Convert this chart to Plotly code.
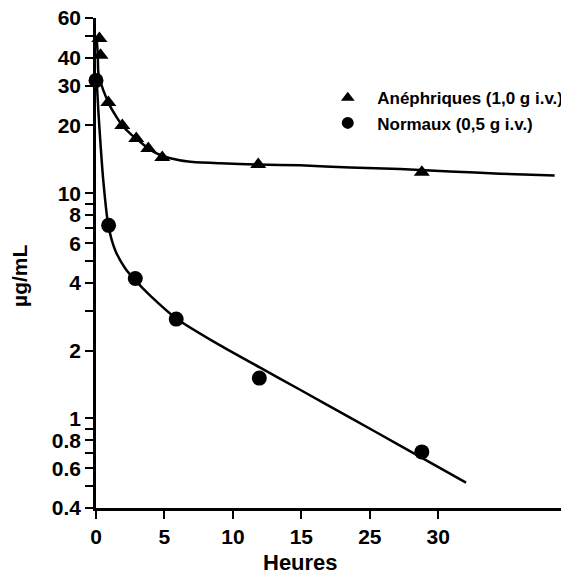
import plotly.graph_objects as go

# Measured points (x in axis position units, y in µg/mL)
aneph_t = [0.25, 0.33, 0.9, 1.92, 2.94, 3.82, 4.84, 11.85, 23.8]
aneph_c = [48.7, 41.0, 25.3, 20.0, 17.5, 15.8, 14.4, 13.4, 12.4]
norm_t = [0.0, 0.92, 2.87, 5.86, 11.93, 23.8]
norm_c = [31.7, 7.2, 4.18, 2.76, 1.51, 0.71]

# Fitted curves
aneph_fit_t = [0.06, 0.13, 0.17, 0.39, 0.68, 1.04, 1.48, 1.92, 2.5, 3.09, 3.82, 4.55,
               5.42, 6.88, 9.07, 11.85, 14.91, 18.56, 22.21, 25.86, 29.51, 33.5]
aneph_fit_c = [47.8, 41.0, 34.4, 30.4, 27.2, 24.3, 21.9, 20.0, 18.4, 17.2, 15.8, 14.9,
               14.3, 13.8, 13.6, 13.4, 13.3, 13.0, 12.8, 12.5, 12.2, 12.0]
norm_fit_t = [0.0, 0.09, 0.17, 0.31, 0.53, 0.9, 1.41, 2.14, 2.87, 3.96, 5.86, 9.07,
              11.99, 14.91, 18.56, 22.21, 27.03]
norm_fit_c = [33.0, 28.6, 23.3, 17.2, 11.4, 7.19, 5.57, 4.63, 4.10, 3.51, 2.78, 2.11,
              1.68, 1.34, 1.008, 0.757, 0.518]

x_tickvals = [0, 5, 10, 15, 20, 25]
x_ticktext = ["0", "5", "10", "15", "25", "30"]
y_tickvals = [0.4, 0.5, 0.6, 0.7, 0.8, 0.9, 1, 2, 3, 4, 5, 6, 7, 8, 9, 10, 20, 30, 40, 50, 60]
y_ticktext = ["0.4", "", "0.6", "", "0.8", "", "1", "2", "", "4", "", "6", "", "8", "",
              "10", "20", "30", "40", "", "60"]

names = ["\u00a0\u00a0Anéphriques (1,0 g i.v.)", "\u00a0\u00a0Normaux (0,5 g i.v.)"]
x_title = "Heures"
y_title = "µg/mL"

fig = go.Figure()
fig.add_trace(go.Scatter(x=aneph_fit_t, y=aneph_fit_c, mode="lines",
                         line=dict(color="black", width=2.5, shape="spline", smoothing=0.6),
                         showlegend=False, cliponaxis=False))
fig.add_trace(go.Scatter(x=norm_fit_t, y=norm_fit_c, mode="lines",
                         line=dict(color="black", width=2.5, shape="spline", smoothing=0.6),
                         showlegend=False, cliponaxis=False))
fig.add_trace(go.Scatter(x=aneph_t, y=aneph_c, mode="markers", name=names[0],
                         marker=dict(symbol="triangle-up", size=14, color="black"),
                         cliponaxis=False))
fig.add_trace(go.Scatter(x=norm_t, y=norm_c, mode="markers", name=names[1],
                         marker=dict(symbol="circle", size=15, color="black"),
                         cliponaxis=False))

tickfont = dict(family="Liberation Sans, Arial, sans-serif", size=21, color="black", weight="bold")

# The page body has an 8px margin, so the figure is made 8px smaller and shifted accordingly
fig.update_layout(
    width=561, height=567,
    margin=dict(l=88, r=0, t=10, b=67),
    paper_bgcolor="white", plot_bgcolor="white",
    font=dict(family="Liberation Sans, Arial, sans-serif", color="black"),
    showlegend=True,
    legend=dict(x=0.49, y=0.873, xanchor="left", yanchor="top",
                bgcolor="rgba(0,0,0,0)", borderwidth=0,
                font=dict(family="Liberation Sans, Arial, sans-serif",
                          size=17, color="black", weight="bold"),
                itemsizing="constant", tracegroupgap=0),
    xaxis=dict(range=[0, 34.55], tickvals=x_tickvals, ticktext=x_ticktext,
               automargin=False, ticklabeloverflow="allow",
               showgrid=False, zeroline=False, showline=True, linecolor="black",
               linewidth=2.5, ticks="outside", ticklen=8, tickwidth=2, tickcolor="black",
               tickfont=tickfont),
    yaxis=dict(type="log", range=[-0.398, 1.77818], tickvals=y_tickvals,
               automargin=False, ticklabeloverflow="allow",
               ticktext=y_ticktext, showgrid=False, zeroline=False, showline=True,
               linecolor="black", linewidth=2.5, ticks="outside", ticklen=8, tickwidth=2,
               tickcolor="black", tickfont=tickfont),
    annotations=[
        dict(text=x_title, xref="paper", yref="paper", x=0.4334, y=-0.112,
             xanchor="center", yanchor="middle", showarrow=False,
             font=dict(family="Liberation Sans, Arial, sans-serif", size=22,
                       color="black", weight="bold")),
        dict(text=y_title, xref="paper", yref="paper", x=-0.1607, y=0.4735,
             xanchor="center", yanchor="middle", showarrow=False, textangle=-90,
             font=dict(family="Liberation Sans, Arial, sans-serif", size=21,
                       color="black", weight="bold")),
    ],
)

fig.write_html("out.html")
